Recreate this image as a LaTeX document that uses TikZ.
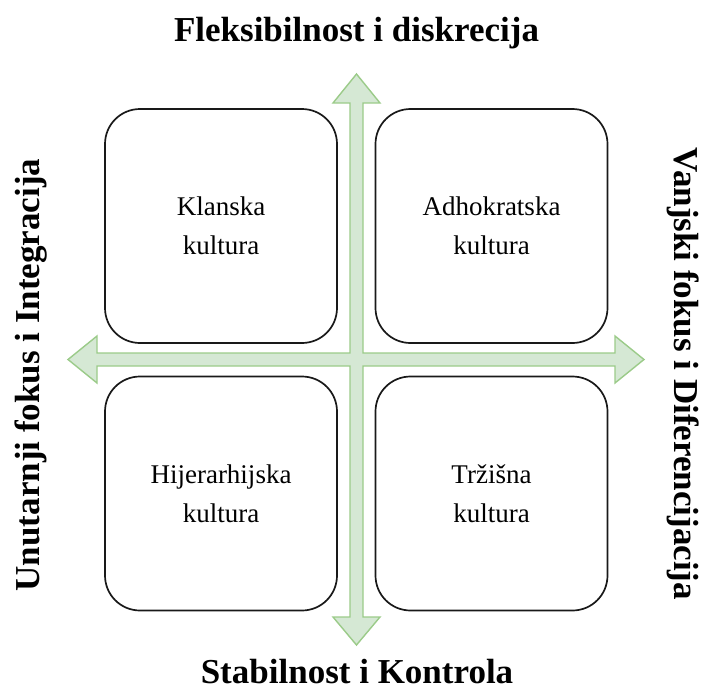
\documentclass[tikz,border=0pt]{standalone}
\usepackage{fontspec}
\setmainfont{Liberation Serif}
\definecolor{crossfill}{HTML}{D5E8D4}
\definecolor{crossline}{HTML}{9BCB89}
\begin{document}
\begin{tikzpicture}[x=1pt,y=-1pt,
  quad/.style={draw=black!90,line width=1.7pt,rounded corners=35pt,minimum width=232pt,minimum height=234pt,align=center,font=\fontsize{27}{39}\selectfont,inner sep=0pt},
  axis/.style={font=\bfseries\fontsize{35}{40}\selectfont,inner sep=0pt}]
\useasboundingbox (0,0) rectangle (702,691);
% cross
\def\cx{356.5}\def\cy{359.5}\def\w{6.5}\def\hw{23.5}
\draw[fill=crossfill,draw=crossline,line width=1.4pt,line join=miter]
  (\cx,74) -- (\cx+\hw,103) -- (\cx+\w,103) -- (\cx+\w,\cy-\w)
  -- (615,\cy-\w) -- (615,\cy-\hw) -- (644,\cy) -- (615,\cy+\hw) -- (615,\cy+\w)
  -- (\cx+\w,\cy+\w) -- (\cx+\w,617) -- (\cx+\hw,617) -- (\cx,645) -- (\cx-\hw,617) -- (\cx-\w,617)
  -- (\cx-\w,\cy+\w) -- (97,\cy+\w) -- (97,\cy+\hw) -- (68,\cy) -- (97,\cy-\hw) -- (97,\cy-\w)
  -- (\cx-\w,\cy-\w) -- (\cx-\w,103) -- (\cx-\hw,103) -- cycle;
% boxes
\node[quad] (kl) at (221,226) {Klanska\\kultura};
\node[quad] (ad) at (491.5,226) {Adhokratska\\kultura};
\node[quad] (hi) at (221,493.5) {Hijerarhijska\\kultura};
\node[quad] (tr) at (491.5,493.5) {Tržišna\\kultura};
% axis labels
\node[axis,anchor=base] (top) at (356.5,41) {Fleksibilnost i diskrecija};
\node[axis,anchor=base] (bot) at (357,683) {Stabilnost i Kontrola};
\node[axis,anchor=base,rotate=90] (lft) at (39,375) {Unutarnji fokus i Integracija};
\node[axis,anchor=base,rotate=-90] (rgt) at (674,374) {Vanjski fokus i Diferencijacija};
\end{tikzpicture}
\end{document}
